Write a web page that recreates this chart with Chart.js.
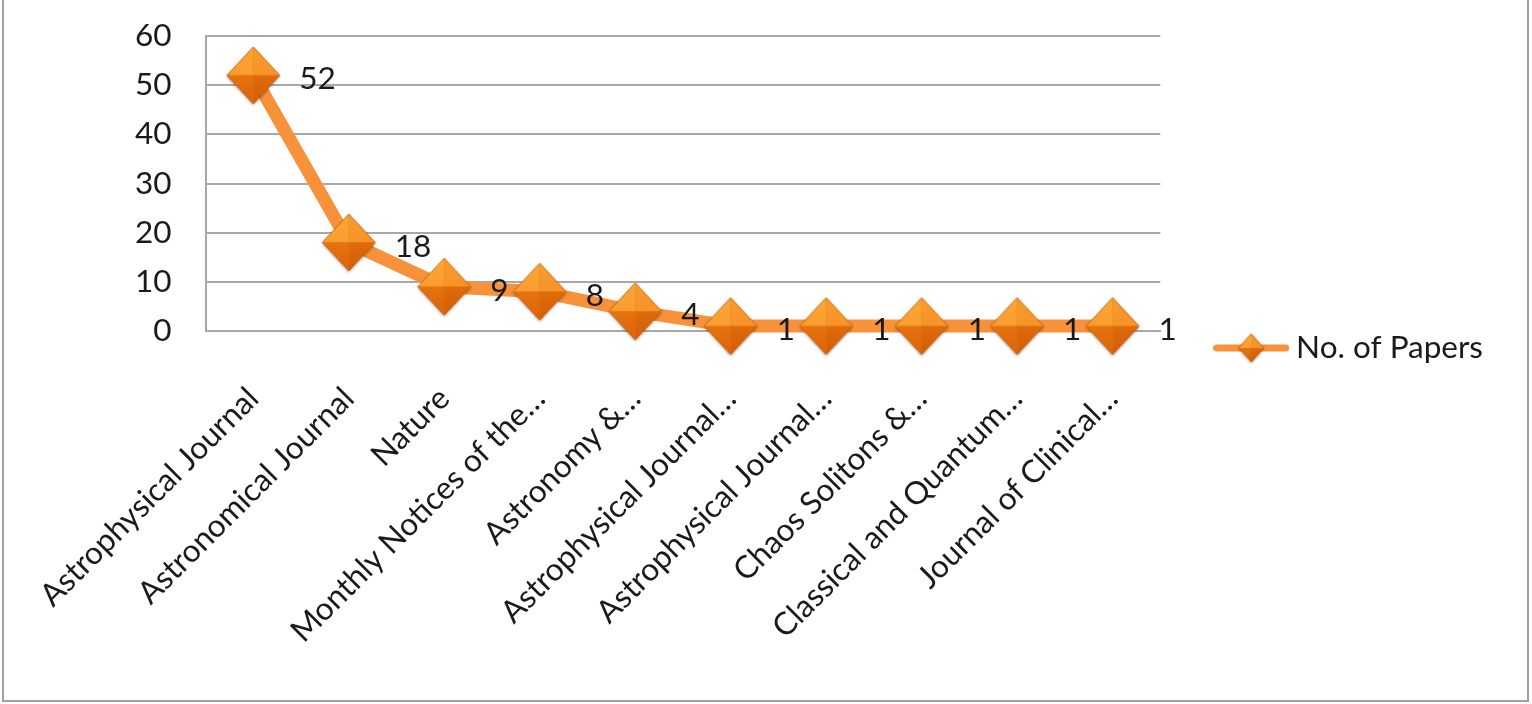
<!DOCTYPE html>
<html><head><meta charset="utf-8">
<script src="https://cdn.jsdelivr.net/npm/chart.js@4/dist/chart.umd.min.js"></script>
<style>
html,body{margin:0;padding:0;background:#fff;overflow:hidden;}
#frame{position:absolute;left:2px;top:-3px;width:1527px;height:705px;border:2px solid #a0a0a0;box-sizing:border-box;background:#fff;}
#frame canvas{display:block;}
</style></head><body>
<div id="frame"><canvas id="c" width="1523" height="701"></canvas></div>
<script>
const categories = [
  'Astrophysical Journal',
  'Astronomical Journal',
  'Nature',
  'Monthly Notices of the\u2026',
  'Astronomy &\u2026',
  'Astrophysical Journal\u2026',
  'Astrophysical Journal\u2026',
  'Chaos Solitons &\u2026',
  'Classical and Quantum\u2026',
  'Journal of Clinical\u2026'
];
const papers = [52, 18, 9, 8, 4, 1, 1, 1, 1, 1];
const yTicks = [0, 10, 20, 30, 40, 50, 60];
const seriesName = 'No. of Papers';

const FONT = 'Lato';
const FS = 31.5;
const TEXT = '#1a1a1a';
const LINE = '#f7913a';
const GRID = '#a8a8a8';

function diamondPath(g, cx, cy, hw, hh) {
  g.beginPath();
  g.moveTo(cx, cy - hh); g.lineTo(cx + hw, cy); g.lineTo(cx, cy + hh); g.lineTo(cx - hw, cy);
  g.closePath();
}
function drawDiamond(g, cx, cy, hw, hh) {
  g.save();
  g.shadowColor = 'rgba(0,0,0,0.35)'; g.shadowBlur = 3; g.shadowOffsetY = 1.5;
  diamondPath(g, cx, cy, hw, hh); g.fillStyle = '#e5740e'; g.fill();
  g.restore();
  const facet = (ax, ay, bx, by, c1, c2) => {
    const gr = g.createLinearGradient(cx, cy - hh, cx, cy + hh);
    gr.addColorStop(0, c1); gr.addColorStop(1, c2);
    g.beginPath(); g.moveTo(cx, cy); g.lineTo(ax, ay); g.lineTo(bx, by); g.closePath();
    g.fillStyle = gr; g.fill();
  };
  facet(cx - hw, cy, cx, cy - hh, '#fba836', '#f79228');
  facet(cx + hw, cy, cx, cy - hh, '#f99d30', '#f5891e');
  facet(cx - hw, cy, cx, cy + hh, '#f08218', '#dc6407');
  facet(cx + hw, cy, cx, cy + hh, '#eb7a14', '#d45d05');
  diamondPath(g, cx, cy, hw, hh);
  g.lineWidth = 1; g.strokeStyle = 'rgba(190,90,10,0.7)'; g.stroke();
}
function makeMarker(hw, hh) {
  const m = 4;
  const c = document.createElement('canvas');
  c.width = 2 * hw + 2 * m; c.height = 2 * hh + 2 * m;
  drawDiamond(c.getContext('2d'), c.width / 2, c.height / 2, hw, hh);
  return c;
}
function makeLegendIcon(w, h, hw, hh, lw) {
  const c = document.createElement('canvas');
  c.width = w; c.height = h;
  const g = c.getContext('2d');
  g.strokeStyle = LINE; g.lineWidth = lw; g.lineCap = 'round';
  g.beginPath(); g.moveTo(lw / 2, h / 2); g.lineTo(w - lw / 2, h / 2); g.stroke();
  drawDiamond(g, w / 2, h / 2, hw, hh);
  return c;
}

const marker = makeMarker(26.5, 28.5);
const legendIcon = makeLegendIcon(76, 34, 12.5, 14, 7);

const valueLabels = {
  id: 'valueLabels',
  afterDatasetsDraw(chart) {
    const ctx = chart.ctx;
    const meta = chart.getDatasetMeta(0);
    ctx.save();
    ctx.font = FS + 'px ' + FONT;
    ctx.fillStyle = TEXT;
    ctx.textAlign = 'left';
    ctx.textBaseline = 'middle';
    meta.data.forEach((pt, i) => ctx.fillText(String(papers[i]), pt.x + 46, pt.y + 4));
    ctx.restore();
  }
};

new Chart(document.getElementById('c'), {
  type: 'line',
  data: {
    labels: categories,
    datasets: [{
      label: seriesName,
      data: papers,
      borderColor: LINE,
      backgroundColor: LINE,
      borderWidth: 13,
      borderCapStyle: 'round',
      borderJoinStyle: 'round',
      tension: 0,
      clip: false,
      pointStyle: marker,
      pointRadius: 1,
      pointHoverRadius: 1
    }]
  },
  options: {
    responsive: false,
    animation: false,
    events: [],
    layout: { autoPadding: false, padding: { left: 97, top: 37, right: 34, bottom: 40 } },
    plugins: {
      tooltip: { enabled: false },
      legend: {
        position: 'right',
        labels: {
          usePointStyle: true,
          pointStyle: legendIcon,
          pointStyleWidth: 58,
          boxHeight: FS,
          padding: 62,
          font: { family: FONT, size: FS },
          color: TEXT
        }
      }
    },
    scales: {
      x: {
        offset: true,
        grid: { display: false, drawTicks: false },
        border: { display: true, color: GRID, width: 2 },
        ticks: {
          autoSkip: false, minRotation: 45, maxRotation: 45,
          padding: 49,
          font: { family: FONT, size: FS }, color: TEXT
        },
        afterFit: s => { s.height = 329; s.paddingLeft = 0; s.paddingRight = 0; }
      },
      y: {
        min: 0, max: 60,
        afterBuildTicks: s => { s.ticks = yTicks.map(v => ({ value: v })); },
        afterFit: s => { s.paddingTop = 0; s.paddingBottom = 0; },
        grid: { color: GRID, lineWidth: 2, drawTicks: false },
        border: { display: true, color: GRID, width: 2 },
        ticks: {
          padding: 34,
          font: { family: FONT, size: FS }, color: TEXT
        }
      }
    }
  },
  plugins: [valueLabels]
});
</script>
</body></html>
